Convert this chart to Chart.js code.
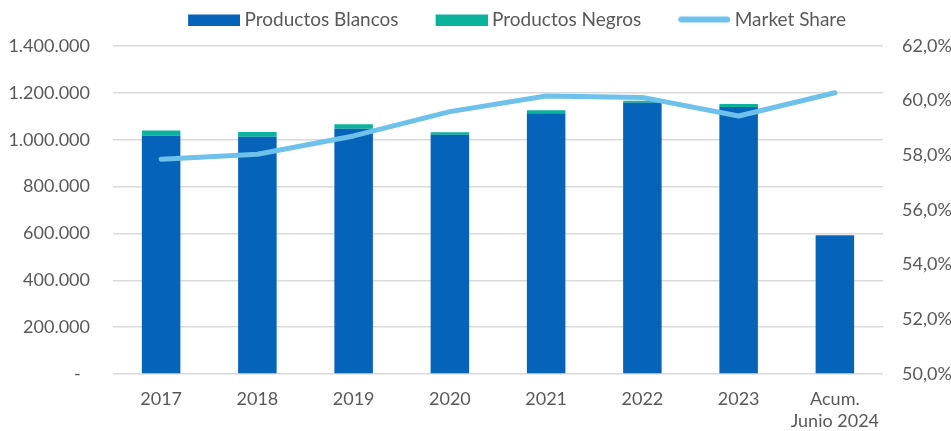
<!DOCTYPE html>
<html>
<head>
<meta charset="utf-8">
<script src="https://cdn.jsdelivr.net/npm/chart.js@4"></script>
<style>
html,body{margin:0;padding:0;background:#fff;}
#wrap{width:951px;height:431px;position:relative;}
</style>
</head>
<body>
<div id="wrap"><canvas id="c" width="951" height="431"></canvas></div>
<script>
// ---- data ----
const categories = ['2017', '2018', '2019', '2020', '2021', '2022', '2023', ['Acum.', 'Junio 2024']];
const productosBlancos = [1017000, 1013000, 1047000, 1021500, 1112700, 1158000, 1139600, 589000];
const productosNegros = [22000, 20000, 19000, 10000, 13000, 8500, 13000, 4000];
const marketShare = [57.86, 58.04, 58.71, 59.60, 60.17, 60.12, 59.44, 60.29];
const seriesNames = ['Productos Blancos', 'Productos Negros', 'Market Share'];
const leftTicks = { min: 0, max: 1400000, step: 200000 };
const rightTicks = { min: 50, max: 62, step: 2 };

const BLUE = '#0563BA', GREEN = '#0BB39C', LIGHT = '#6EC1EA', TEXT = '#595959';
const FONT = 'Lato';

// legend symbols
function makeSymbol(color, kind) {
  const cv = document.createElement('canvas');
  cv.width = 84; cv.height = 12;
  const g = cv.getContext('2d');
  if (kind === 'box') {
    g.fillStyle = color; g.fillRect(32, 1, 52, 11);
  } else {
    g.strokeStyle = color; g.lineWidth = 6; g.lineCap = 'round';
    g.beginPath(); g.moveTo(35, 6); g.lineTo(81, 6); g.stroke();
  }
  return cv;
}
const symbols = [makeSymbol(BLUE, 'box'), makeSymbol(GREEN, 'box'), makeSymbol(LIGHT, 'line')];

const layoutFix = {
  id: 'layoutFix',
  beforeLayout(chart) {
    const l = chart.legend;
    if (l && !l._patched) {
      const f = l.fit;
      l.fit = function () { f.call(this); this.height = 46; };
      const d = l.draw;
      l.draw = function () {
        const ctx = this.ctx; ctx.save(); ctx.translate(28, 0); d.call(this); ctx.restore();
      };
      l._patched = true;
    }
  }
};

function fmtThousands(v) {
  if (v === 0) return '-  ';
  return String(Math.round(v)).replace(/\B(?=(\d{3})+(?!\d))/g, '.');
}

new Chart(document.getElementById('c'), {
  data: {
    labels: categories,
    datasets: [
      { type: 'bar', label: seriesNames[0], data: productosBlancos, backgroundColor: BLUE, yAxisID: 'y', order: 1,
        barPercentage: 0.4, categoryPercentage: 1.0, stack: 's' },
      { type: 'bar', label: seriesNames[1], data: productosNegros, backgroundColor: GREEN, yAxisID: 'y', order: 1,
        barPercentage: 0.4, categoryPercentage: 1.0, stack: 's' },
      { type: 'line', label: seriesNames[2], data: marketShare, borderColor: LIGHT, backgroundColor: LIGHT,
        borderWidth: 5, pointRadius: 0, tension: 0, yAxisID: 'y2', order: -1,
        borderCapStyle: 'round', borderJoinStyle: 'round' }
    ]
  },
  plugins: [layoutFix],
  options: {
    responsive: false,
    animation: false,
    devicePixelRatio: 1,
    layout: { padding: 0 },
    plugins: {
      tooltip: { enabled: false },
      legend: {
        display: true,
        position: 'top',
        labels: {
          usePointStyle: true,
          pointStyleWidth: 74,
          boxHeight: 12,
          padding: 10,
          color: TEXT,
          font: { family: FONT, size: 19 },
          generateLabels(chart) {
            const items = Chart.defaults.plugins.legend.labels.generateLabels(chart);
            items.sort((a, b) => a.datasetIndex - b.datasetIndex);
            items.forEach(it => { it.pointStyle = symbols[it.datasetIndex]; });
            return items;
          }
        }
      }
    },
    scales: {
      x: {
        stacked: true,
        offset: true,
        grid: { display: false },
        border: { display: false },
        ticks: { color: TEXT, font: { family: FONT, size: 18, lineHeight: 1.22 }, padding: 6, maxRotation: 0, autoSkip: false },
        afterFit(s) { s.height = 57; }
      },
      y: {
        stacked: true,
        position: 'left',
        min: leftTicks.min, max: leftTicks.max,
        grid: { color: '#dadada', lineWidth: 1.5, drawTicks: false },
        border: { display: false },
        ticks: { stepSize: leftTicks.step, color: TEXT, font: { family: FONT, size: 18 }, padding: 23, callback: v => fmtThousands(v) },
        afterFit(s) { s.width = 113; }
      },
      y2: {
        position: 'right',
        min: rightTicks.min, max: rightTicks.max,
        grid: { display: false, drawTicks: false },
        border: { display: false },
        ticks: { stepSize: rightTicks.step, color: TEXT, font: { family: FONT, size: 18 }, padding: 19,
          callback: v => v.toFixed(1).replace('.', ',') + '%' },
        afterFit(s) { s.width = 68; }
      }
    }
  }
});
</script>
</body>
</html>
